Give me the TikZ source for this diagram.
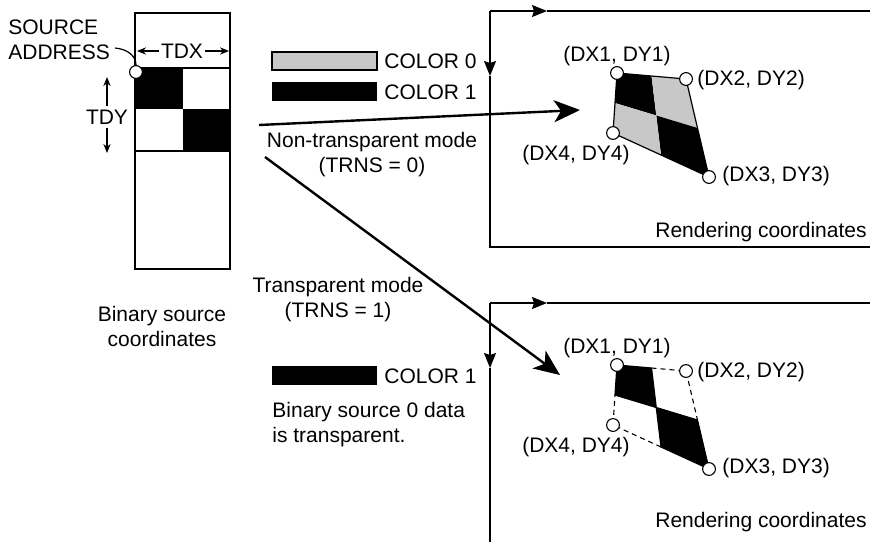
\documentclass[tikz,border=0pt]{standalone}
\usepackage{fontspec}
\setmainfont{Liberation Sans}
\usetikzlibrary{arrows.meta,calc}
\definecolor{cgray}{HTML}{C8C8C8}
\tikzset{
  lbl/.style={font=\fontsize{10.5}{12.5}\selectfont, inner sep=0pt, align=center},
  vtx/.style={circle, draw, fill=white, line width=0.55pt, minimum size=6.4pt, inner sep=0pt},
  mainarr/.style={-{Stealth[length=13pt,width=11pt,inset=3.5pt]}, line width=1.2pt},
  tarr/.style={-{Stealth[length=4.5pt,width=3.6pt]}, line width=0.6pt},
  axarr/.style={-{Stealth[length=7.5pt,width=6pt,inset=1pt]}, line width=0.65pt},
  thin/.style={line width=0.6pt},
  dsh/.style={line width=0.55pt, dash pattern=on 2.5pt off 2pt},
}

\begin{document}
\begin{tikzpicture}[x=0.5pt, y=-0.5pt]
  \useasboundingbox (0,0) rectangle (870,542);

  % binary source
  \fill (135,68) rectangle (183,109);
  \fill (183,109) rectangle (230,151);
  \draw[thin] (135,13) rectangle (230,269);
  \draw[thin] (135,68) -- (230,68) (135,151) -- (230,151);
  \node[vtx] (sa) at (136,72) {};
  \node[lbl, align=left, anchor=west] (saddr) at (8,40) {SOURCE\\ADDRESS};
  \coordinate (ce) at (115,48);
  \draw[thin] (ce) to[out=-5, in=90] (sa.north);

  \node[lbl] (tdx) at (182,51) {TDX};
  \draw[tarr] (tdx.west) ++(-2,0) -- (137,51);
  \draw[tarr] (tdx.east) ++(2,0) -- (229,51);
  \node[lbl] (tdy) at (107,117) {TDY};
  \draw[tarr] (tdy.north) ++(0,-3) -- (107,77);
  \draw[tarr] (tdy.south) ++(0,3) -- (107,153);
  \node[lbl] (bsc) at (162,326) {Binary source\\coordinates};

  % legend
  \draw[thin, fill=cgray] (272,52) rectangle (377,70);
  \node[lbl, anchor=west] (c0) at (384,61) {COLOR 0};
  \fill (272,82) rectangle (377,101);
  \node[lbl, anchor=west] (c1) at (384,92) {COLOR 1};
  \fill (272,366) rectangle (377,385);
  \node[lbl, anchor=west] (c1b) at (384,376) {COLOR 1};
  \node[lbl, align=left, anchor=west] (note) at (272,425) {Binary source 0 data\\is transparent.};

  % modes
  \node[lbl] (ntm) at (372,155) {Non-transparent mode\\(TRNS = 0)};
  \node[lbl] (tm) at (338,300) {Transparent mode\\(TRNS = 1)};
  \coordinate (s1) at (259,125);
  \coordinate (t1) at (580,110);
  \coordinate (s2) at (265,157);
  \coordinate (t2) at (560,375);
  \draw[mainarr] (s1) -- (t1);
  \draw[mainarr] (s2) -- (t2);

  % rendering, non-transparent
  \draw[axarr] (490,11) -- (547,11);
  \draw[thin] (547,11) -- (870,11);
  \draw[axarr] (490,11) -- (490,76);
  \draw[thin] (490,76) -- (490,247) -- (870,247);
  \coordinate (p1) at (617,73);
  \coordinate (p2) at (686,79);
  \coordinate (p3) at (709,177);
  \coordinate (p4) at (613,133);
  \coordinate (m12) at ($(p1)!0.5!(p2)$);
  \coordinate (m23) at ($(p2)!0.5!(p3)$);
  \coordinate (m34) at ($(p3)!0.5!(p4)$);
  \coordinate (m41) at ($(p4)!0.5!(p1)$);
  \coordinate (mc) at ($(m12)!0.5!(m34)$);
  \fill (p1) -- (m12) -- (mc) -- (m41) -- cycle;
  \fill[cgray] (m12) -- (p2) -- (m23) -- (mc) -- cycle;
  \fill (mc) -- (m23) -- (p3) -- (m34) -- cycle;
  \fill[cgray] (m41) -- (mc) -- (m34) -- (p4) -- cycle;
  \draw[thin] (p1) -- (p2) -- (p3) -- (p4) -- cycle;
  \node[vtx] (a1) at (p1) {};
  \node[vtx] (a2) at (p2) {};
  \node[vtx] (a3) at (p3) {};
  \node[vtx] (a4) at (p4) {};
  \node[lbl] (la1) at (617,56) {(DX1, DY1)};
  \node[lbl, anchor=west] (la2) at (697,80) {(DX2, DY2)};
  \node[lbl] (la4) at (576,155) {(DX4, DY4)};
  \node[lbl, anchor=west] (la3) at (722,176) {(DX3, DY3)};
  \node[lbl] (rc1) at (761,232) {Rendering coordinates};

  % rendering, transparent
  \begin{scope}[shift={(0,292)}]
    \draw[axarr] (490,11) -- (547,11);
    \draw[thin] (547,11) -- (870,11);
    \draw[axarr] (490,11) -- (490,76);
    \draw[thin] (490,76) -- (490,250);
    \coordinate (q1) at (617,73);
    \coordinate (q2) at (686,79);
    \coordinate (q3) at (709,177);
    \coordinate (q4) at (613,133);
    \coordinate (n12) at ($(q1)!0.5!(q2)$);
    \coordinate (n23) at ($(q2)!0.5!(q3)$);
    \coordinate (n34) at ($(q3)!0.5!(q4)$);
    \coordinate (n41) at ($(q4)!0.5!(q1)$);
    \coordinate (nc) at ($(n12)!0.5!(n34)$);
    \fill (q1) -- (n12) -- (nc) -- (n41) -- cycle;
    \fill (nc) -- (n23) -- (q3) -- (n34) -- cycle;
    \draw[thin] (q1) -- (n12) -- (nc) -- (n41) -- cycle;
    \draw[thin] (nc) -- (n23) -- (q3) -- (n34) -- cycle;
    \draw[dsh] (n12) -- (q2) -- (n23);
    \draw[dsh] (n34) -- (q4) -- (n41);
    \node[vtx] (b1) at (q1) {};
    \node[vtx] (b2) at (q2) {};
    \node[vtx] (b3) at (q3) {};
    \node[vtx] (b4) at (q4) {};
    \node[lbl] (lb1) at (617,56) {(DX1, DY1)};
    \node[lbl, anchor=west] (lb2) at (697,80) {(DX2, DY2)};
    \node[lbl] (lb4) at (576,155) {(DX4, DY4)};
    \node[lbl, anchor=west] (lb3) at (722,176) {(DX3, DY3)};
    \node[lbl] (rc2) at (761,230) {Rendering coordinates};
  \end{scope}
\end{tikzpicture}
\end{document}
